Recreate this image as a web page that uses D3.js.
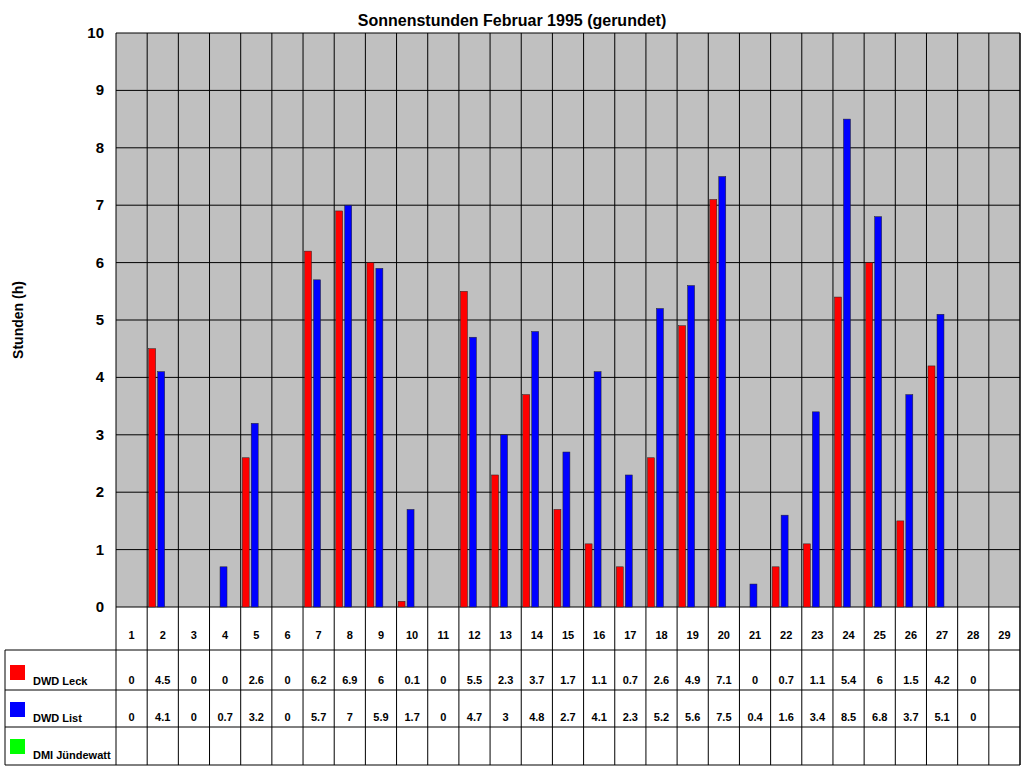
<!DOCTYPE html>
<html><head><meta charset="utf-8">
<script src="https://cdn.jsdelivr.net/npm/d3@7"></script>
<style>body{margin:0;background:#fff}text{font-family:Arial,"Liberation Sans",sans-serif}</style>
</head><body>
<svg id="chart" width="1024" height="768"></svg>
<script>
const days = d3.range(1, 30);
const leck = [0,4.5,0,0,2.6,0,6.2,6.9,6,0.1,0,5.5,2.3,3.7,1.7,1.1,0.7,2.6,4.9,7.1,0,0.7,1.1,5.4,6,1.5,4.2,0,null];
const list = [0,4.1,0,0.7,3.2,0,5.7,7,5.9,1.7,0,4.7,3,4.8,2.7,4.1,2.3,5.2,5.6,7.5,0.4,1.6,3.4,8.5,6.8,3.7,5.1,0,null];
const juende = days.map(() => null);
const series = [
  {name: "DWD Leck", color: "#ff0000", values: leck},
  {name: "DWD List", color: "#0000ff", values: list},
  {name: "DMI Jündewatt", color: "#00ff00", values: juende}
];

const svg = d3.select("#chart");
const plotL = 116, plotR = 1020, plotT = 33, plotB = 607;
const x = d3.scaleBand().domain(days).range([plotL, plotR]);
const y = d3.scaleLinear().domain([0, 10]).range([plotB, plotT]);
const colW = x.bandwidth();

svg.append("rect").attr("x", plotL).attr("y", plotT).attr("width", plotR - plotL).attr("height", plotB - plotT).attr("fill", "#c0c0c0");

// grid
svg.selectAll(".hg").data(d3.range(0, 11)).join("line")
  .attr("x1", plotL).attr("x2", plotR).attr("y1", d => y(d)).attr("y2", d => y(d)).attr("stroke", "#000");
svg.selectAll(".vg").data(d3.range(0, 30)).join("line")
  .attr("x1", d => plotL + d * colW).attr("x2", d => plotL + d * colW)
  .attr("y1", plotT).attr("y2", 765).attr("stroke", "#000");

// bars
const bw = 7;
series.slice(0, 2).forEach((s, si) => {
  svg.append("g").selectAll("rect").data(days.map((d, i) => [d, s.values[i]]).filter(d => d[1] > 0)).join("rect")
    .attr("x", d => x(d[0]) + 1.5 + si * 9)
    .attr("y", d => y(d[1]))
    .attr("width", bw)
    .attr("height", d => plotB - y(d[1]))
    .attr("fill", s.color).attr("stroke", "#222").attr("stroke-width", 0.5);
});

// y axis labels
svg.selectAll(".yl").data(d3.range(0, 11)).join("text")
  .attr("x", plotL - 12).attr("y", d => y(d) + 5).attr("text-anchor", "end")
  .attr("font-size", 15).attr("font-weight", "bold").text(d => d);

svg.append("text").attr("transform", "translate(23,320) rotate(-90)").attr("text-anchor", "middle")
  .attr("font-size", 14).attr("font-weight", "bold").text("Stunden (h)");
svg.append("text").attr("x", 512).attr("y", 26).attr("text-anchor", "middle")
  .attr("font-size", 16).attr("font-weight", "bold").text("Sonnenstunden Februar 1995 (gerundet)");

// table
const rowLines = [650, 690, 727, 765];
svg.selectAll(".rl").data(rowLines).join("line")
  .attr("x1", 5).attr("x2", plotR).attr("y1", d => d).attr("y2", d => d).attr("stroke", "#000");
svg.append("line").attr("x1", 5).attr("x2", 5).attr("y1", 650).attr("y2", 765).attr("stroke", "#000");
svg.append("line").attr("x1", plotR).attr("x2", plotR).attr("y1", plotT).attr("y2", 765).attr("stroke", "#000");
svg.selectAll(".dl").data(days).join("text")
  .attr("x", d => x(d) + colW / 2).attr("y", 639).attr("text-anchor", "middle")
  .attr("font-size", 11).attr("font-weight", "bold").text(d => d);

const rowY = [685, 722, 759];
series.forEach((s, si) => {
  svg.append("rect").attr("x", 10).attr("y", rowY[si] - 20).attr("width", 15).attr("height", 15).attr("fill", s.color);
  svg.append("text").attr("x", 33).attr("y", rowY[si]).attr("font-size", 11).attr("font-weight", "bold").text(s.name);
  svg.append("g").selectAll("text").data(days.map((d, i) => [d, s.values[i]]).filter(d => d[1] != null)).join("text")
    .attr("x", d => x(d[0]) + colW / 2).attr("y", rowY[si] - 1).attr("text-anchor", "middle")
    .attr("font-size", 11).attr("font-weight", "bold").text(d => d[1]);
});
</script>
</body></html>
